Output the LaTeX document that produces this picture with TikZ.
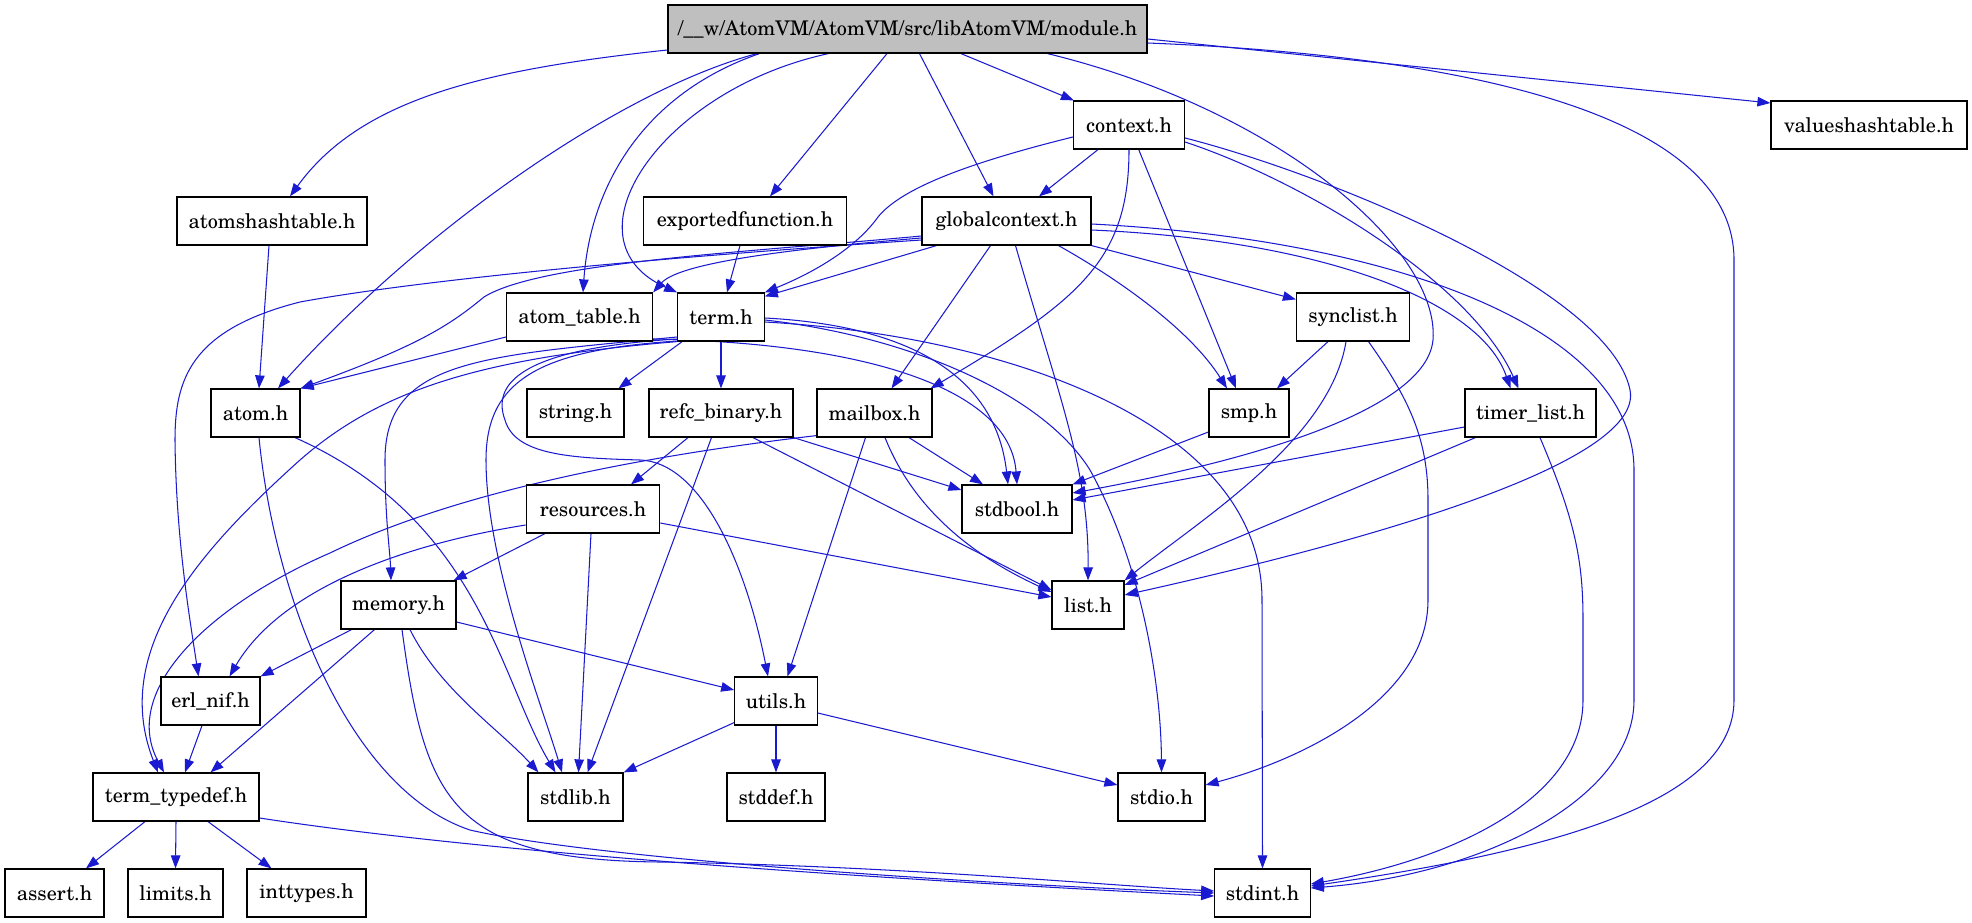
\documentclass[tikz,border=0pt]{standalone}
\usepackage{fontspec}
\setmainfont{texgyreschola-regular.otf}
\usetikzlibrary{arrows.meta}
\definecolor{edgeblue}{HTML}{1A1AD1}
\definecolor{rootgray}{HTML}{BFBFBF}
\pgfdeclarelayer{bg}
\pgfsetlayers{bg,main}
\begin{document}
\begin{tikzpicture}[x=1pt,y=-1pt,
  box/.style={draw=black, fill=white, line width=1.2pt, minimum height=48pt, inner sep=0pt, font=\fontsize{20.2}{24}\selectfont},
  root/.style={box, fill=rootgray},
  edge/.style={draw=edgeblue, line width=1.05pt, -{Triangle[length=13pt,width=9.5pt]}}]
\useasboundingbox (0,0) rectangle (1972,923);
% nodes
\node[root, minimum width=479pt] (module) at (907.5,29) {/\_\_w/AtomVM/AtomVM/src/libAtomVM/module.h};
\node[box, minimum width=111pt] (context) at (1129,125) {context.h};
\node[box, minimum width=196pt] (valueshash) at (1869,125) {valueshashtable.h};
\node[box, minimum width=190pt] (atomshash) at (272,221) {atomshashtable.h};
\node[box, minimum width=203pt] (exported) at (745,221) {exportedfunction.h};
\node[box, minimum width=169pt] (global) at (1006.5,221) {globalcontext.h};
\node[box, minimum width=146pt] (atomtable) at (579.5,317) {atom\_table.h};
\node[box, minimum width=86.5pt] (term) at (721,317) {term.h};
\node[box, minimum width=113pt] (synclist) at (1353,317) {synclist.h};
\node[box, minimum width=89pt] (atom) at (255.5,413) {atom.h};
\node[box, minimum width=97pt] (string) at (575.5,413) {string.h};
\node[box, minimum width=144pt] (refc) at (721,413) {refc\_binary.h};
\node[box, minimum width=115pt] (mailbox) at (874.5,413) {mailbox.h};
\node[box, minimum width=80pt] (smp) at (1249,413) {smp.h};
\node[box, minimum width=131pt] (timer) at (1530.5,413) {timer\_list.h};
\node[box, minimum width=133.5pt] (resources) at (593,509) {resources.h};
\node[box, minimum width=110pt] (stdbool) at (1017,509) {stdbool.h};
\node[box, minimum width=115pt] (memory) at (398.5,605) {memory.h};
\node[box, minimum width=72pt] (list) at (1088,605) {list.h};
\node[box, minimum width=99pt] (erlnif) at (210.5,701) {erl\_nif.h};
\node[box, minimum width=82.5pt] (utils) at (776,701) {utils.h};
\node[box, minimum width=166pt] (termtd) at (176,797) {term\_typedef.h};
\node[box, minimum width=95pt] (stdlib) at (575.5,797) {stdlib.h};
\node[box, minimum width=98pt] (stddef) at (776,797) {stddef.h};
\node[box, minimum width=87pt] (stdio) at (1161.5,797) {stdio.h};
\node[box, minimum width=99pt] (assert) at (54.5,893) {assert.h};
\node[box, minimum width=95pt] (limits) at (175.5,893) {limits.h};
\node[box, minimum width=119pt] (inttypes) at (306.5,893) {inttypes.h};
\node[box, minimum width=95.5pt] (stdint) at (1262.5,893) {stdint.h};
\begin{pgfonlayer}{bg}
% module.h
\draw[edge] ([yshift=-21pt]module.west) .. controls (480,70) and (360,100) .. ([xshift=18pt]atomshash.north);
\draw[edge] ([xshift=-150.5pt]module.south) .. controls (620,90) and (420,230) .. ([xshift=22.5pt]atom.north);
\draw[edge] ([xshift=-148pt]module.south) .. controls (640,95) and (590,190) .. ([xshift=3.5pt]atomtable.north);
\draw[edge] ([xshift=-79pt]module.south) .. controls (660,90) and (560,240) .. (term.north west);
\draw[edge] ([xshift=-20.5pt]module.south) -- ([xshift=25pt]exported.north);
\draw[edge] ([xshift=12pt]module.south) -- ([xshift=-13pt]global.north);
\draw[edge] ([xshift=53.5pt]module.south) -- ([xshift=1pt]context.north west);
\draw[edge] ([xshift=140pt]module.south) .. controls (1280,110) and (1440,250) .. (1433,340) .. controls (1425,420) and (1200,470) .. ([yshift=16pt]stdbool.east);
\draw[edge] ([yshift=-14pt]module.east) .. controls (1450,55) and (1734,110) .. (1734,260) -- (1734,700) .. controls (1734,800) and (1560,850) .. ([yshift=7pt]stdint.east);
\draw[edge] ([yshift=-10pt]module.east) -- ([yshift=22pt]valueshash.west);
% context.h
\draw[edge] ([yshift=-12pt]context.west) .. controls (960,165) and (900,190) .. (878,217) .. controls (858,245) and (820,270) .. (term.north east);
\draw[edge] ([xshift=-31pt]context.south) -- ([xshift=32.5pt]global.north);
\draw[edge] (context.south) .. controls (1129,260) and (1080,300) .. ([xshift=-2pt]mailbox.north east);
\draw[edge] ([xshift=9.7pt]context.south) -- ([xshift=-13pt]smp.north);
\draw[edge] ([yshift=-17pt]context.east) .. controls (1300,180) and (1470,280) .. ([xshift=-12pt]timer.north);
\draw[edge] ([yshift=-13pt]context.east) .. controls (1330,175) and (1610,290) .. (1630,390) .. controls (1645,465) and (1350,545) .. ([yshift=10pt]list.east);
% globalcontext.h
\draw[edge] ([yshift=-17pt]global.west) .. controls (800,248) and (680,262) .. (atomtable.north east);
\draw[edge] ([yshift=-15pt]global.west) .. controls (750,252) and (540,262) .. (484,297) .. controls (450,325) and (420,345) .. (atom.north east);
\draw[edge] ([yshift=-19pt]global.west) .. controls (650,258) and (420,280) .. (300,302) .. controls (190,330) and (175,380) .. (175,440) .. controls (176,540) and (190,620) .. ([xshift=-12pt]erlnif.north);
\draw[edge] ([xshift=-70pt]global.south) -- ([yshift=-4pt]term.north east);
\draw[edge] ([xshift=-16pt]global.south) -- ([xshift=17pt]mailbox.north);
\draw[edge] ([xshift=9pt]global.south) .. controls (1060,400) and (1089,470) .. (list.north);
\draw[edge] ([xshift=52pt]global.south) .. controls (1120,280) and (1190,330) .. ([xshift=-22pt]smp.north);
\draw[edge] (global.south east) -- ([yshift=-7pt]synclist.north west);
\draw[edge] ([yshift=-3pt]global.east) .. controls (1400,240) and (1634,330) .. (1634,470) -- (1634,700) .. controls (1634,800) and (1480,875) .. ([yshift=5pt]stdint.east);
\draw[edge] ([yshift=-9pt]global.east) .. controls (1320,240) and (1480,300) .. ([xshift=-20pt]timer.north);
% exportedfunction.h, atomshashtable.h, atom_table.h
\draw[edge] ([xshift=-5pt]exported.south) -- ([xshift=6pt]term.north);
\draw[edge] ([xshift=-3pt]atomshash.south) -- ([xshift=3.5pt]atom.north);
\draw[edge] ([yshift=-20pt]atomtable.west) -- (atom.north east);
\draw[edge] ([yshift=-22pt]atomtable.east) .. controls (870,343) and (1010,390) .. (stdbool.north);
% term.h
\draw[edge] ([yshift=-1pt]term.east) .. controls (900,325) and (995,370) .. ([xshift=-9pt]stdbool.north);
\draw[edge] ([yshift=-3pt]term.east) .. controls (900,335) and (1040,390) .. (1090,470) .. controls (1140,560) and (1161,680) .. (stdio.north);
\draw[edge] ([yshift=-5pt]term.east) .. controls (1000,335) and (1262,420) .. (1262,600) -- (stdint.north);
\draw[edge] ([xshift=5pt]term.south west) -- ([xshift=43pt]string.north);
\draw[edge] (term.south) -- (refc.north);
\draw[edge] ([yshift=-20pt]term.west) .. controls (480,356) and (385,360) .. (385,460) .. controls (385,520) and (390,550) .. ([xshift=-7.5pt]memory.north);
\draw[edge] ([yshift=-22pt]term.west) .. controls (530,348) and (490,380) .. (505,420) .. controls (515,455) and (570,458) .. (640,460) .. controls (700,462) and (745,560) .. ([xshift=-8pt]utils.north);
\draw[edge] ([yshift=-24pt]term.west) .. controls (540,350) and (486,380) .. (486,460) .. controls (486,560) and (540,700) .. ([xshift=-13.5pt]stdlib.north);
\draw[edge] (term.south west) .. controls (480,358) and (380,390) .. (300,460) .. controls (200,550) and (110,650) .. ([xshift=-18pt]termtd.north);
% mailbox.h
\draw[edge] ([yshift=2pt]mailbox.south west) .. controls (650,455) and (460,490) .. (330,553) .. controls (210,605) and (120,690) .. ([xshift=-12pt]termtd.north);
\draw[edge] ([xshift=-9pt]mailbox.south) -- ([xshift=11.5pt]utils.north);
\draw[edge] ([xshift=10.5pt]mailbox.south) .. controls (910,500) and (960,550) .. ([yshift=13pt]list.west);
\draw[edge] ([xshift=34.5pt]mailbox.south) -- ([xshift=-34pt]stdbool.north);
% refc_binary.h
\draw[edge] ([xshift=-33pt]refc.south) -- ([xshift=38pt]resources.north);
\draw[edge] ([xshift=-9.5pt]refc.south) -- ([xshift=12pt]stdlib.north);
\draw[edge] ([xshift=32pt]refc.south) -- ([yshift=15pt]list.west);
\draw[edge] (refc.south east) -- ([yshift=19pt]stdbool.west);
% resources.h
\draw[edge] ([yshift=-14pt]resources.east) -- ([yshift=8pt]list.west);
\draw[edge] ([xshift=-2pt]resources.south) -- ([xshift=3pt]stdlib.north);
\draw[edge] ([xshift=-48pt]resources.south) -- ([xshift=-3pt]memory.north east);
\draw[edge] ([yshift=-16pt]resources.west) .. controls (400,545) and (280,590) .. ([xshift=19pt]erlnif.north);
% memory.h
\draw[edge] ([xshift=-47pt]memory.south) -- (erlnif.north east);
\draw[edge] ([xshift=-24pt]memory.south) -- ([xshift=34.5pt]termtd.north);
\draw[edge] ([xshift=11.5pt]memory.south) .. controls (440,690) and (500,730) .. ([xshift=-37pt]stdlib.north);
\draw[edge] ([xshift=3.5pt]memory.south) .. controls (425,800) and (450,860) .. (660,862) .. controls (900,866) and (1100,885) .. ([yshift=2pt]stdint.west);
\draw[edge] ([yshift=-17pt]memory.east) -- ([yshift=11pt]utils.west);
% erl_nif.h, term_typedef.h
\draw[edge] ([xshift=-8.5pt]erlnif.south) -- ([xshift=9pt]termtd.north);
\draw[edge] ([xshift=-31pt]termtd.south) -- ([xshift=31.5pt]assert.north);
\draw[edge] (termtd.south) -- (limits.north);
\draw[edge] ([xshift=32pt]termtd.south) -- ([xshift=-35pt]inttypes.north);
\draw[edge] ([yshift=-21pt]termtd.east) .. controls (500,855) and (900,880) .. ([yshift=-3pt]stdint.west);
% atom.h
\draw[edge] ([xshift=3.5pt]atom.south) .. controls (275,600) and (350,790) .. (470,830) .. controls (600,860) and (1000,885) .. (stdint.west);
\draw[edge] ([xshift=39.5pt]atom.south) .. controls (480,520) and (500,680) .. ([xshift=-20pt]stdlib.north);
% utils.h
\draw[edge] ([yshift=3pt]utils.south west) -- (stdlib.north east);
\draw[edge] (utils.south) -- (stddef.north);
\draw[edge] ([yshift=-12pt]utils.east) -- ([yshift=12pt]stdio.west);
% synclist.h
\draw[edge] ([xshift=-25pt]synclist.south) -- ([xshift=28pt]smp.north);
\draw[edge] ([xshift=-7pt]synclist.south) .. controls (1330,440) and (1200,520) .. (list.north east);
\draw[edge] ([xshift=15.5pt]synclist.south) .. controls (1410,400) and (1428,440) .. (1428,500) -- (1428,600) .. controls (1428,700) and (1300,760) .. ([yshift=12pt]stdio.east);
% smp.h
\draw[edge] ([yshift=-19pt]smp.west) -- (stdbool.north east);
% timer_list.h
\draw[edge] ([yshift=-14pt]timer.west) -- ([yshift=9pt]stdbool.east);
\draw[edge] ([xshift=-55pt]timer.south) -- ([yshift=20pt]list.east);
\draw[edge] ([xshift=9.5pt]timer.south) .. controls (1575,520) and (1583,560) .. (1583,620) -- (1583,700) .. controls (1583,800) and (1450,860) .. ([yshift=9pt]stdint.east);
\end{pgfonlayer}
\end{tikzpicture}
\end{document}
